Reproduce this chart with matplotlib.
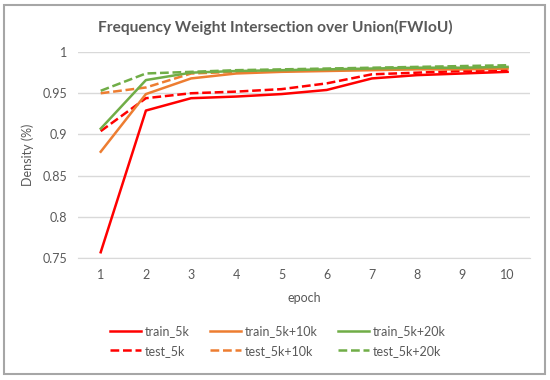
import matplotlib.pyplot as plt
from matplotlib.patches import Rectangle

plt.rcParams['font.family'] = ['Lato', 'DejaVu Sans']

epochs = [1, 2, 3, 4, 5, 6, 7, 8, 9, 10]
train_5k = [0.757, 0.929, 0.944, 0.946, 0.949, 0.954, 0.968, 0.972, 0.974, 0.976]
test_5k = [0.904, 0.944, 0.950, 0.952, 0.955, 0.962, 0.973, 0.975, 0.977, 0.978]
train_5k10k = [0.879, 0.949, 0.968, 0.974, 0.976, 0.977, 0.978, 0.979, 0.979, 0.980]
test_5k10k = [0.950, 0.957, 0.974, 0.976, 0.977, 0.978, 0.979, 0.980, 0.981, 0.981]
train_5k20k = [0.907, 0.966, 0.975, 0.977, 0.978, 0.979, 0.980, 0.981, 0.981, 0.982]
test_5k20k = [0.953, 0.974, 0.976, 0.978, 0.979, 0.980, 0.981, 0.982, 0.983, 0.984]

red = "#FF0000"
orange = "#ED7D31"
green = "#70AD47"
txt = "#595959"
dash = (0, (3.5, 1.5))

fig = plt.figure(figsize=(5.5, 3.8), dpi=100)
ax = fig.add_axes([0.142, 0.321, 0.822, 0.542])

l1, = ax.plot(epochs, train_5k, color=red, lw=1.8, label="train_5k")
l2, = ax.plot(epochs, test_5k, color=red, lw=1.8, ls=dash, label="test_5k")
l3, = ax.plot(epochs, train_5k10k, color=orange, lw=1.8, label="train_5k+10k")
l4, = ax.plot(epochs, test_5k10k, color=orange, lw=1.8, ls=dash, label="test_5k+10k")
l5, = ax.plot(epochs, train_5k20k, color=green, lw=1.8, label="train_5k+20k")
l6, = ax.plot(epochs, test_5k20k, color=green, lw=1.8, ls=dash, label="test_5k+20k")

ax.set_xlim(0.5, 10.5)
ax.set_ylim(0.75, 1.0)
ax.set_xticks(epochs)
ax.set_yticks([0.75, 0.8, 0.85, 0.9, 0.95, 1.0])
ax.set_yticklabels(["0.75", "0.8", "0.85", "0.9", "0.95", "1"])
ax.tick_params(length=0, labelsize=9, colors=txt, pad=8)
ax.grid(axis="y", color="#D9D9D9", lw=1)
ax.set_axisbelow(True)
for s in ["top", "right", "left"]:
    ax.spines[s].set_visible(False)
ax.spines["bottom"].set_color("#D9D9D9")
ax.set_xlabel("epoch", color=txt, fontsize=9, labelpad=8)
ax.set_ylabel("Density (%)", color=txt, fontsize=9, labelpad=6)
fig.text(0.5, 0.928, "Frequency Weight Intersection over Union(FWIoU)", color=txt,
         fontsize=11.2, fontweight="bold", ha="center", va="center")

fig.legend([l1, l2, l3, l4, l5, l6],
           ["train_5k", "test_5k", "train_5k+10k", "test_5k+10k", "train_5k+20k", "test_5k+20k"],
           ncol=3, loc="center", bbox_to_anchor=(0.505, 0.103), frameon=False,
           fontsize=9, labelcolor=txt, handlelength=2.5, handletextpad=0.3,
           columnspacing=1.6, labelspacing=0.6)

fig.add_artist(Rectangle((0.008, 0.015), 0.983, 0.972, transform=fig.transFigure,
                         fill=False, edgecolor="#A6A6A6", lw=1.5))

fig.savefig("out.png", dpi=100)
